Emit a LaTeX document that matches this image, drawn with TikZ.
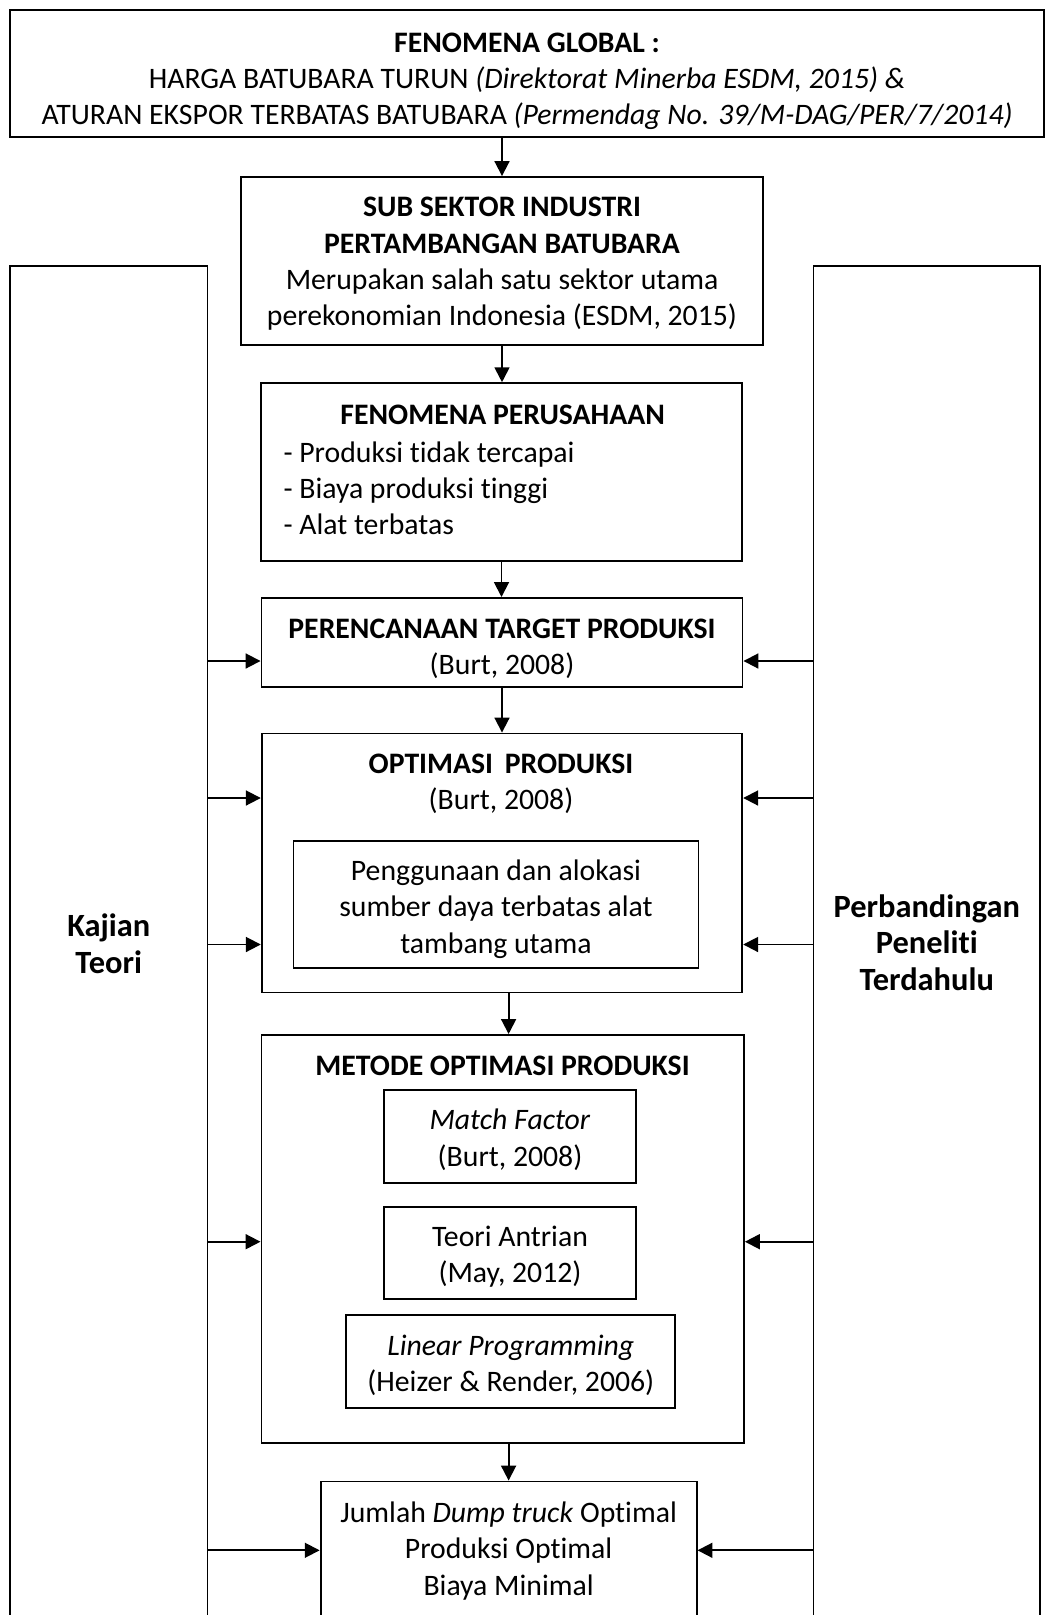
\documentclass[tikz,border=0pt]{standalone}
\usepackage{fontspec}
\setmainfont{Carlito}[Ligatures=NoCommon]
\usetikzlibrary{arrows.meta}
\newcommand{\pxs}{0.37pt}
\newcommand{\padtop}[1]{\rule{0pt}{#1}}

\begin{document}
\begin{tikzpicture}[x=0.37pt, y=-0.37pt,
    every node/.style={font=\fontsize{11}{13.4}\selectfont},
    box/.style={draw, line width=0.7pt, inner sep=0pt, align=center},
    sidebox/.style={box, font=\fontsize{12}{13.6}\selectfont\bfseries},
    arr/.style={-{Triangle[length=5.5pt,width=5.5pt]}, line width=0.7pt}]
    \useasboundingbox (0,0) rectangle (1046,1615);
    \clip (0,0) rectangle (1046,1615);

    % main column
    \node[box, minimum width=1034*\pxs, minimum height=126.7*\pxs] (global) at (527,73.3)
        {\padtop{13.1pt}\textbf{FENOMENA GLOBAL :}\\ HARGA BATUBARA TURUN \textit{(Direktorat Minerba ESDM, 2015) \&}\\ ATURAN EKSPOR TERBATAS BATUBARA \textit{(Permendag No. 39/M-DAG/PER/7/2014)}};
    \node[box, minimum width=522*\pxs, minimum height=168*\pxs] (sub) at (502,261)
        {\padtop{9.3pt}\textbf{SUB SEKTOR INDUSTRI}\\ \textbf{PERTAMBANGAN BATUBARA}\\ Merupakan salah satu sektor utama\\ perekonomian Indonesia (ESDM, 2015)};

    \node[box, minimum width=481*\pxs, minimum height=177.7*\pxs] (perusahaan) at (501.5,472) {};
    \node (perusahaanjudul) at (502.7,415) {\textbf{FENOMENA PERUSAHAAN}};
    \node[align=left, anchor=west, inner sep=0pt] (masalah) at (283,488)
        {- Produksi tidak tercapai\\ - Biaya produksi tinggi\\ - Alat terbatas};

    \node[box, minimum width=481*\pxs, minimum height=88.7*\pxs] (perencanaan) at (502,642.3)
        {\padtop{12.3pt}\textbf{PERENCANAAN TARGET PRODUKSI}\\ (Burt, 2008)};

    \node[box, minimum width=480.5*\pxs, minimum height=259*\pxs] (optimasi) at (502,863) {};
    \node[align=center] (optimasijudul) at (501,784) {\textbf{OPTIMASI~\,PRODUKSI}\\ (Burt, 2008)};
    \node[box, minimum width=405*\pxs, minimum height=127*\pxs] (alokasi) at (496,904.2)
        {\padtop{11.3pt}Penggunaan dan alokasi\\ sumber daya terbatas alat\\ tambang utama};

    \node[box, minimum width=482.5*\pxs, minimum height=407.7*\pxs] (metode) at (502.7,1238.8) {};
    \node (metodejudul) at (502.6,1066) {\textbf{METODE OPTIMASI PRODUKSI}};
    \node[box, minimum width=252.6*\pxs, minimum height=92.7*\pxs] (matchfactor) at (510,1136.7)
        {\padtop{9.8pt}\textit{Match Factor}\\ (Burt, 2008)};
    \node[box, minimum width=252.6*\pxs, minimum height=92.7*\pxs] (antrian) at (510,1253)
        {\padtop{10.3pt}Teori Antrian\\ (May, 2012)};
    \node[box, minimum width=329*\pxs, minimum height=92.4*\pxs] (linear) at (510.8,1361.5)
        {\padtop{10.2pt}\textit{Linear Programming}\\ (Heizer \& Render, 2006)};

    \node[box, minimum width=376*\pxs, minimum height=135*\pxs] (hasil) at (508.6,1549)
        {\padtop{9.1pt}Jumlah \textit{Dump truck} Optimal\\ Produksi Optimal\\ Biaya Minimal};

    % side columns
    \node[sidebox, minimum width=197.5*\pxs, minimum height=1356*\pxs] (kajian) at (108.75,944)
        {Kajian\\ Teori};
    \node[sidebox, minimum width=226.5*\pxs, minimum height=1353*\pxs] (banding) at (926.75,942.5)
        {Perbandingan\\ Peneliti\\ Terdahulu};

    % arrows down the middle
    \draw[arr] (global.south -| sub.north) -- (sub.north);
    \draw[arr] (sub.south) -- (sub.south |- perusahaan.north);
    \draw[arr] (perusahaan.south) -- (perusahaan.south |- perencanaan.north);
    \draw[arr] (perencanaan.south) -- (perencanaan.south |- optimasi.north);
    \draw[arr] (optimasi.south -| hasil.north) -- (metode.north -| hasil.north);
    \draw[arr] (metode.south -| hasil.north) -- (hasil.north);

    % arrows from both sides
    \foreach \target/\ypos in {perencanaan/661, optimasi/798, optimasi/944.5, metode/1241.7, hasil/1550.3} {
        \draw[arr] (kajian.east |- 0,\ypos) -- (\target.west |- 0,\ypos);
        \draw[arr] (banding.west |- 0,\ypos) -- (\target.east |- 0,\ypos);
    }
\end{tikzpicture}
\end{document}
